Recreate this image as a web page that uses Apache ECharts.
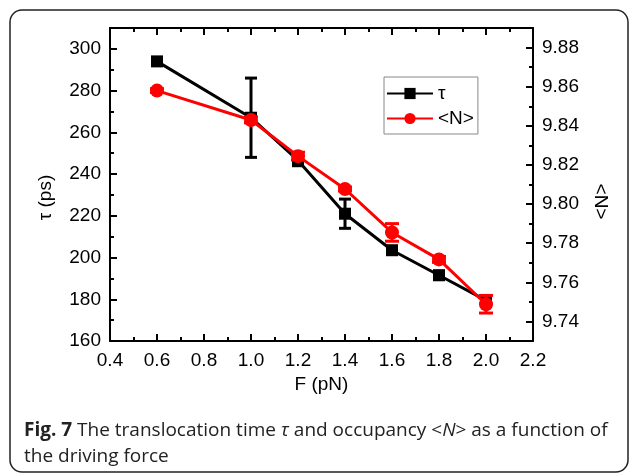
<!DOCTYPE html>
<html>
<head>
<meta charset="utf-8">
<script src="https://cdn.jsdelivr.net/npm/echarts@6/dist/echarts.min.js"></script>
<style>
  html, body { margin: 0; padding: 0; background: #fff; }
  #chart { width: 630px; height: 474px; }
</style>
</head>
<body>
<div id="chart"></div>
<script>
  // F (pN)
  var forces = [0.6, 1.0, 1.2, 1.4, 1.6, 1.8, 2.0];
  // translocation time tau (ps) and its error
  var tauValues = [294, 267, 246.5, 221, 203.5, 191.5, 179.5];
  var tauErrors = [1.5, 19, 2.5, 7, 1.5, 2, 2];
  // occupancy <N> and its error
  var nValues = [9.858, 9.843, 9.8245, 9.8077, 9.7855, 9.7717, 9.7488];
  var nErrors = [0.001, 0.0015, 0.002, 0.001, 0.0045, 0.0015, 0.0045];

  var labelFont = { fontFamily: 'Liberation Sans', fontSize: 19, color: '#000' };

  function pairs(xs, ys) {
    return xs.map(function (x, i) { return [x, ys[i]]; });
  }
  function errRows(xs, ys, es) {
    return xs.map(function (x, i) { return [x, ys[i] - es[i], ys[i] + es[i]]; });
  }

  // error bar drawn with the axis scales
  function errorBar(color, cap) {
    return function (params, api) {
      var lo = api.coord([api.value(0), api.value(1)]);
      var hi = api.coord([api.value(0), api.value(2)]);
      var st = { stroke: color, lineWidth: 3 };
      return {
        type: 'group',
        children: [
          { type: 'line', shape: { x1: lo[0], y1: lo[1], x2: hi[0], y2: hi[1] }, style: st },
          { type: 'line', shape: { x1: lo[0] - cap, y1: lo[1], x2: lo[0] + cap, y2: lo[1] }, style: st },
          { type: 'line', shape: { x1: hi[0] - cap, y1: hi[1], x2: hi[0] + cap, y2: hi[1] }, style: st }
        ]
      };
    };
  }

  var frameLine = { show: true, lineStyle: { color: '#000', width: 2 } };
  var tick = { show: true, inside: true, length: 7, lineStyle: { color: '#000', width: 2 } };
  var minor = { show: true, splitNumber: 2, length: 4, lineStyle: { color: '#000', width: 2 } };

  var chart = echarts.init(document.getElementById('chart'));
  var option = {
    animation: false,
    backgroundColor: '#fff',
    grid: { left: 110, right: 97, top: 28, bottom: 133 },
    legend: {
      orient: 'vertical',
      left: 384,
      top: 77,
      padding: [7, 4, 6, 2],
      itemGap: 6,
      itemWidth: 46,
      itemHeight: 14,
      borderColor: '#888',
      borderWidth: 1,
      textStyle: Object.assign({ lineHeight: 16 }, labelFont),
      data: ['τ', '<N>']
    },
    xAxis: [
      {
        type: 'value', position: 'bottom',
        min: 0.4, max: 2.2, interval: 0.2,
        axisLine: frameLine, axisTick: tick, minorTick: minor,
        splitLine: { show: false },
        axisLabel: Object.assign({ margin: 10, formatter: function (v) { return v.toFixed(1); } }, labelFont),
        name: 'F (pN)', nameLocation: 'middle', nameGap: 33,
        nameTextStyle: labelFont
      },
      {
        type: 'value', position: 'top',
        min: 0.4, max: 2.2, interval: 0.2,
        axisLine: frameLine, axisTick: tick, minorTick: minor,
        splitLine: { show: false }, axisLabel: { show: false }
      }
    ],
    yAxis: [
      {
        type: 'value', position: 'left',
        min: 160, max: 310, interval: 20,
        axisLine: frameLine, axisTick: tick, minorTick: minor,
        splitLine: { show: false },
        axisLabel: Object.assign({ margin: 9, showMaxLabel: false }, labelFont),
        name: 'τ (ps)', nameLocation: 'middle', nameGap: 55,
        nameTextStyle: Object.assign({ padding: [0, 26, 0, 0] }, labelFont)
      },
      {
        type: 'value', position: 'right',
        min: 9.73, max: 9.89, splitNumber: 8,
        axisLine: frameLine, axisTick: tick, minorTick: minor,
        splitLine: { show: false },
        axisLabel: Object.assign({
          margin: 9, showMinLabel: false, showMaxLabel: false,
          formatter: function (v) { return v.toFixed(2); }
        }, labelFont),
        name: '<N>', nameLocation: 'middle', nameGap: 58, nameRotate: -90,
        nameTextStyle: Object.assign({ padding: [0, 0, 0, 34] }, labelFont)
      }
    ],
    series: [
      {
        name: 'tauErr', type: 'custom', xAxisIndex: 0, yAxisIndex: 0,
        renderItem: errorBar('#000', 6), z: 2,
        data: errRows(forces, tauValues, tauErrors)
      },
      {
        name: 'τ', type: 'line', xAxisIndex: 0, yAxisIndex: 0, z: 3,
        symbol: 'rect', symbolSize: 12,
        itemStyle: { color: '#000' },
        lineStyle: { color: '#000', width: 3 },
        data: pairs(forces, tauValues)
      },
      {
        name: 'nErr', type: 'custom', xAxisIndex: 0, yAxisIndex: 1,
        renderItem: errorBar('#ff0000', 7), z: 4,
        data: errRows(forces, nValues, nErrors)
      },
      {
        name: '<N>', type: 'line', xAxisIndex: 0, yAxisIndex: 1, z: 5,
        symbol: 'circle', symbolSize: 14,
        itemStyle: { color: '#ff0000' },
        lineStyle: { color: '#ff0000', width: 3 },
        data: pairs(forces, nValues)
      }
    ],
    graphic: [
      {
        type: 'rect', silent: true,
        shape: { x: 10, y: 10, width: 618, height: 462, r: 12 },
        style: { fill: 'none', stroke: '#222', lineWidth: 1.5 }
      },
      {
        type: 'text', silent: true, left: 24, top: 418,
        style: {
          text: '{b|Fig. 7} The translocation time {i|τ} and occupancy <{i|N}> as a function of\nthe driving force',
          fontFamily: 'Open Sans', fontSize: 19, fill: '#222', lineHeight: 26,
          rich: {
            b: { fontFamily: 'Open Sans', fontSize: 19, fontWeight: 'bold', fill: '#222', lineHeight: 26 },
            i: { fontFamily: 'Open Sans', fontSize: 19, fontStyle: 'italic', fill: '#222', lineHeight: 26 }
          }
        }
      }
    ]
  };
  chart.setOption(option);
</script>
</body>
</html>
